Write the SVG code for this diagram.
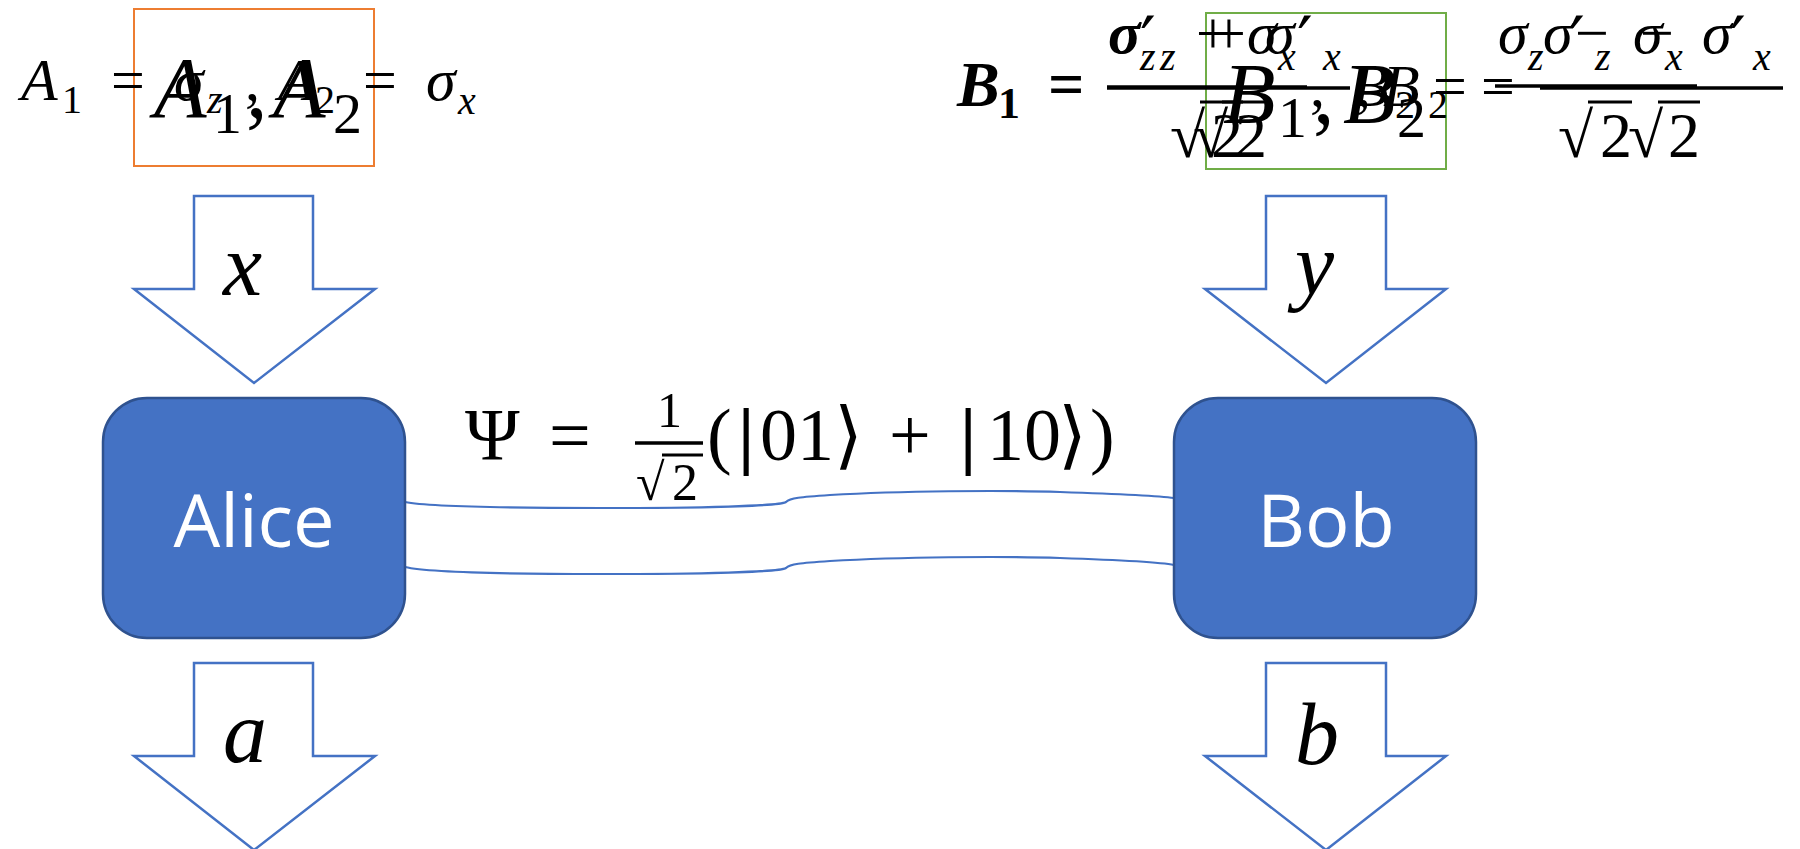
<svg xmlns="http://www.w3.org/2000/svg" width="1800" height="849" viewBox="0 0 1800 849">
<style>
.m{font-family:"Liberation Serif","DejaVu Serif",serif;fill:#000}
.i{font-style:italic}
.b{font-weight:bold}
.sym{font-family:"DejaVu Serif","DejaVu Sans",serif;fill:#000}
.pr{font-family:"DejaVu Serif","DejaVu Sans",serif;font-size:70px;fill:#000}
.box{fill:#4472C4;stroke:#2F528F;stroke-width:2.5}
.lbl{font-family:"Open Sans","Liberation Sans",sans-serif;font-size:74px;fill:#fff;text-anchor:middle}
.arr{fill:#fff;stroke:#4472C4;stroke-width:2.5;stroke-linejoin:miter}
.wire{fill:none;stroke:#4472C4;stroke-width:2.2}
.bar{stroke:#000;stroke-width:3.5}
.vin{stroke:#000;stroke-width:3}
</style>
<rect width="1800" height="849" fill="#fff"/>

<g id="alice-settings">
<rect x="134" y="9" width="240" height="157" fill="none" stroke="#ED7D31" stroke-width="2"/>
<text class="m" font-size="60"><tspan class="i" x="21" y="100">A</tspan><tspan x="62" y="113" font-size="40">1</tspan><tspan x="111" y="100">=</tspan><tspan class="i" x="174" y="100">σ</tspan><tspan class="i" x="207" y="113" font-size="40">z</tspan><tspan x="245" y="100">,</tspan><tspan class="i" x="278" y="100">A</tspan><tspan x="315" y="113" font-size="40">2</tspan><tspan x="363" y="100">=</tspan><tspan class="i" x="426" y="100">σ</tspan><tspan class="i" x="458" y="114" font-size="40">x</tspan></text>
<text class="m" font-size="86"><tspan class="i" x="154" y="117">A</tspan><tspan x="213" y="133" font-size="58">1</tspan><tspan x="246" y="117">,</tspan><tspan class="i" x="273" y="117">A</tspan><tspan x="333" y="133" font-size="58">2</tspan></text>
</g>

<g id="bob-settings">
<rect x="1206" y="13" width="240" height="156" fill="none" stroke="#70AD47" stroke-width="2"/>
<text class="m b i" font-size="64"><tspan x="957" y="106">B</tspan><tspan x="998" y="118" font-size="44" font-style="normal">1</tspan><tspan x="1048" y="106" font-style="normal">=</tspan></text>
<text class="m" font-size="60"><tspan class="i b" x="1108" y="53">σ</tspan><tspan class="i" x="1140" y="70" font-size="40">z</tspan><tspan x="1196" y="53">+</tspan><tspan class="i" x="1247" y="53">σ</tspan><tspan class="i" x="1278" y="70" font-size="40">x</tspan></text>
<text class="m" font-size="60"><tspan class="i" x="1110" y="53">σ</tspan><tspan class="pr" x="1140" y="66">′</tspan><tspan class="i" x="1160" y="70" font-size="40">z</tspan><tspan x="1212" y="53">+</tspan><tspan class="i" x="1265" y="53">σ</tspan><tspan class="pr" x="1297" y="66">′</tspan><tspan class="i" x="1323" y="70" font-size="40">x</tspan></text>
<line class="bar" x1="1107" y1="87" x2="1307" y2="87"/>
<line class="bar" x1="1107" y1="88" x2="1350" y2="88"/>
<text class="m" font-size="64"><tspan x="1170" y="157">√</tspan><tspan x="1211" y="157">2</tspan></text>
<line class="vin" x1="1200" y1="102" x2="1243" y2="102"/>
<text class="m" font-size="64"><tspan x="1193" y="157">√</tspan><tspan x="1235" y="157">2</tspan></text>
<line class="vin" x1="1222" y1="102" x2="1266" y2="102"/>
<text class="m" font-size="60"><tspan x="1310" y="106">,</tspan><tspan class="i" x="1352" y="106">B</tspan><tspan x="1395" y="118" font-size="40">2</tspan><tspan x="1433" y="106">=</tspan></text>
<text class="m" font-size="60"><tspan x="1356" y="106">,</tspan><tspan class="i" x="1383" y="106">B</tspan><tspan x="1428" y="118" font-size="40">2</tspan><tspan x="1481" y="106">=</tspan></text>
<text class="m" font-size="60"><tspan class="i" x="1498" y="53">σ</tspan><tspan class="i" x="1528" y="70" font-size="40">z</tspan><tspan x="1575" y="53">−</tspan><tspan class="i" x="1633" y="53">σ</tspan><tspan class="i" x="1665" y="70" font-size="40">x</tspan></text>
<text class="m" font-size="60"><tspan class="i" x="1543" y="53">σ</tspan><tspan class="pr" x="1569" y="66">′</tspan><tspan class="i" x="1595" y="70" font-size="40">z</tspan><tspan x="1640" y="53">−</tspan><tspan class="i" x="1702" y="53">σ</tspan><tspan class="pr" x="1730" y="66">′</tspan><tspan class="i" x="1753" y="70" font-size="40">x</tspan></text>
<line class="bar" x1="1495" y1="86" x2="1697" y2="86"/>
<line class="bar" x1="1540" y1="88" x2="1783" y2="88"/>
<text class="m" font-size="64"><tspan x="1558" y="157">√</tspan><tspan x="1600" y="157">2</tspan></text>
<line class="vin" x1="1588" y1="102" x2="1632" y2="102"/>
<text class="m" font-size="64"><tspan x="1628" y="157">√</tspan><tspan x="1668" y="157">2</tspan></text>
<line class="vin" x1="1658" y1="102" x2="1700" y2="102"/>
<text class="m" font-size="86"><tspan class="i" x="1223" y="123">B</tspan><tspan x="1278" y="137" font-size="58">1</tspan><tspan x="1313" y="123">,</tspan><tspan class="i" x="1343" y="123">B</tspan><tspan x="1397" y="137" font-size="58">2</tspan></text>
</g>

<g id="input-x">
<polygon class="arr" points="194,196 313,196 313,289 375,289 254,383 134,289 194,289"/>
<text class="m i" x="223" y="295" font-size="88">x</text>
</g>
<g id="input-y">
<polygon class="arr" points="1266,196 1386,196 1386,289 1446,289 1326,383 1205,289 1266,289"/>
<text class="m i" x="1295" y="294" font-size="88">y</text>
</g>
<g id="output-a">
<polygon class="arr" points="194,663 313,663 313,756 375,756 254,850 134,756 194,756"/>
<text class="m i" x="223" y="762" font-size="88">a</text>
</g>
<g id="output-b">
<polygon class="arr" points="1266,663 1386,663 1386,756 1446,756 1326,850 1205,756 1266,756"/>
<text class="m i" x="1295" y="764" font-size="88">b</text>
</g>

<g id="connectors">
<path class="wire" d="M405,502 C430,507 520,508 600,508 C700,508 780,506 786,502 C790,498 800,497 830,495 C900,491 1000,490 1060,492 C1120,494 1160,496 1174,498"/>
<path class="wire" d="M405,567 C430,573 520,574 600,574 C700,574 780,572 786,568 C790,564 800,563 830,561 C900,557 1000,556 1060,558 C1120,560 1160,562 1174,565"/>
</g>

<g id="state">
<text class="m" font-size="74"><tspan x="465" y="460">Ψ</tspan><tspan x="549" y="460">=</tspan></text>
<text class="m" font-size="50" x="657" y="427">1</text>
<line class="bar" x1="635" y1="443" x2="703" y2="443"/>
<text class="m" font-size="52"><tspan x="636" y="500">√</tspan><tspan x="672" y="500">2</tspan></text>
<line class="vin" x1="662" y1="455" x2="703" y2="455"/>
<text class="m" font-size="74"><tspan x="707" y="460">(</tspan><tspan x="738" y="460" font-weight="bold">|</tspan><tspan x="760" y="460">01</tspan><tspan class="sym" x="834" y="460">⟩</tspan><tspan x="889" y="460">+</tspan><tspan x="960" y="460" font-weight="bold">|</tspan><tspan x="987" y="460">10</tspan><tspan class="sym" x="1058" y="460">⟩</tspan><tspan x="1090" y="460">)</tspan></text>
</g>

<g id="alice">
<rect class="box" x="103" y="398" width="302" height="240" rx="44"/>
<text class="lbl" x="254" y="547">Alice</text>
</g>
<g id="bob">
<rect class="box" x="1174" y="398" width="302" height="240" rx="44"/>
<text class="lbl" x="1326" y="547">Bob</text>
</g>
</svg>
